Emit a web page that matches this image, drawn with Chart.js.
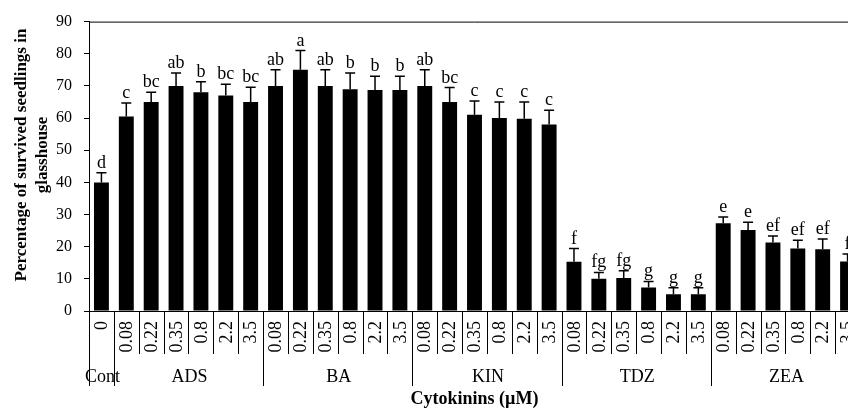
<!DOCTYPE html>
<html>
<head>
<meta charset="utf-8">
<script src="https://cdn.jsdelivr.net/npm/chart.js@4"></script>
<style>
  html, body { margin: 0; padding: 0; background: #fff; overflow: hidden; }
  #wrap { width: 848px; height: 412px; overflow: hidden; }
</style>
</head>
<body>
<div id="wrap"><canvas id="barChart" width="872" height="412"></canvas></div>
<script>
// treatments, grouped by cytokinin
var groupNames = ["Cont", "ADS", "BA", "KIN", "TDZ", "ZEA"];
var groupSizes = [1, 6, 6, 6, 6, 6];
var doseLabels = ["0",
    "0.08", "0.22", "0.35", "0.8", "2.2", "3.5",
    "0.08", "0.22", "0.35", "0.8", "2.2", "3.5",
    "0.08", "0.22", "0.35", "0.8", "2.2", "3.5",
    "0.08", "0.22", "0.35", "0.8", "2.2", "3.5",
    "0.08", "0.22", "0.35", "0.8", "2.2", "3.5"];

// % survived seedlings, with the upper error and the letters over each bar
var survival = [40,
    60.5, 65, 70, 68, 67, 65,
    70, 75, 70, 69, 68.7, 68.7,
    70, 65, 61, 60, 59.8, 58,
    15.3, 10, 10.3, 7.3, 5.2, 5.2,
    27.3, 25.2, 21.3, 19.4, 19.2, 15.4];
var errorUp = [3,
    4.2, 3, 4, 3.3, 3.5, 4.6,
    5, 6, 5, 5, 4.3, 4.3,
    5, 4.5, 4.3, 5, 5.2, 4.4,
    4.1, 2, 2.2, 1.9, 2, 2,
    1.9, 2.4, 2, 2.6, 3.2, 2.3];
var letters = ["d",
    "c", "bc", "ab", "b", "bc", "bc",
    "ab", "a", "ab", "b", "b", "b",
    "ab", "bc", "c", "c", "c", "c",
    "f", "fg", "fg", "g", "g", "g",
    "e", "e", "ef", "ef", "ef", "f"];

var yTicks = [0, 10, 20, 30, 40, 50, 60, 70, 80, 90];

var serif = "'Liberation Serif', 'Times New Roman', serif";

// error bars, letters, category axis and titles
var extras = {
    id: "extras",
    afterDatasetsDraw: function (chart) {
        var ctx = chart.ctx;
        var xs = chart.scales.x, ys = chart.scales.y;
        ctx.save();
        ctx.strokeStyle = "#000";
        ctx.fillStyle = "#000";
        ctx.lineWidth = 1.5;
        ctx.font = "18px " + serif;
        ctx.textAlign = "center";
        ctx.textBaseline = "alphabetic";
        for (var i = 0; i < survival.length; i++) {
            var x = xs.getPixelForValue(i);
            var yb = ys.getPixelForValue(survival[i]);
            var yt = ys.getPixelForValue(survival[i] + errorUp[i]);
            ctx.beginPath();
            ctx.moveTo(x, yb);
            ctx.lineTo(x, yt);
            ctx.moveTo(x - 5, yt);
            ctx.lineTo(x + 5, yt);
            ctx.stroke();
            ctx.fillText(letters[i], x, yt - 5);
        }
        ctx.restore();
    },
    afterDraw: function (chart) {
        var ctx = chart.ctx;
        var area = chart.chartArea;
        var xs = chart.scales.x;
        var half = (xs.getPixelForValue(1) - xs.getPixelForValue(0)) / 2;
        ctx.save();
        ctx.strokeStyle = "#000";
        ctx.fillStyle = "#000";
        ctx.lineWidth = 1;

        // top frame
        ctx.beginPath();
        ctx.moveTo(area.left, area.top + 0.5);
        ctx.lineTo(area.right, area.top + 0.5);
        ctx.stroke();

        // separators under the axis
        var bounds = [0];
        var n = 0;
        groupSizes.forEach(function (s) { n += s; bounds.push(n); });
        for (var b = 0; b <= doseLabels.length; b++) {
            var bx = Math.round(xs.getPixelForValue(b) - half) + 0.5;
            var long = bounds.indexOf(b) >= 0;
            ctx.beginPath();
            ctx.moveTo(bx, area.bottom);
            ctx.lineTo(bx, long ? area.bottom + 75 : area.bottom + 43);
            ctx.stroke();
        }

        // dose labels, rotated
        ctx.font = "18px " + serif;
        ctx.textAlign = "right";
        ctx.textBaseline = "middle";
        for (var i = 0; i < doseLabels.length; i++) {
            ctx.save();
            ctx.translate(xs.getPixelForValue(i) + 1, area.bottom + 10);
            ctx.rotate(-Math.PI / 2);
            ctx.fillText(doseLabels[i], 0, 0);
            ctx.restore();
        }

        // group names
        ctx.font = "18px " + serif;
        ctx.textAlign = "center";
        ctx.textBaseline = "middle";
        var start = 0;
        for (var g = 0; g < groupNames.length; g++) {
            var end = start + groupSizes[g] - 1;
            var gx = (xs.getPixelForValue(start) + xs.getPixelForValue(end)) / 2;
            ctx.fillText(groupNames[g], gx + 1, area.bottom + 66);
            start = end + 1;
        }

        // x title
        ctx.font = "bold 18px " + serif;
        ctx.fillText("Cytokinins (\u00b5M)", (area.left + area.right) / 2, area.bottom + 88);

        // y title, two lines
        ctx.save();
        ctx.translate(22, 155);
        ctx.rotate(-Math.PI / 2);
        ctx.font = "bold 17px " + serif;
        ctx.fillText("Percentage of survived seedlings in", 0, 0);
        ctx.fillText("glasshouse", 0, 21);
        ctx.restore();

        ctx.restore();
    }
};

var canvas = document.getElementById("barChart");
var ctx = canvas.getContext("2d");
canvas.chart = new Chart(ctx, {
    type: "bar",
    data: {
        labels: doseLabels,
        datasets: [{
            label: "Survival",
            data: survival,
            backgroundColor: "#000",
            borderWidth: 0,
            barPercentage: 0.6,
            categoryPercentage: 1
        }]
    },
    options: {
        responsive: false,
        animation: false,
        devicePixelRatio: 1,
        layout: { padding: { top: 17, right: 12, bottom: 101, left: 0 } },
        plugins: {
            legend: { display: false },
            tooltip: { enabled: false }
        },
        scales: {
            x: {
                grid: { display: false },
                ticks: { display: false },
                border: { display: true, color: "#000", width: 1 },
                afterFit: function (scale) { scale.height = 0; }
            },
            y: {
                min: 0,
                max: 90,
                afterBuildTicks: function (scale) {
                    scale.ticks = yTicks.map(function (v) { return { value: v }; });
                },
                grid: { display: true, drawOnChartArea: false, drawTicks: true, tickLength: 5, color: "#000" },
                border: { display: true, color: "#000", width: 1 },
                ticks: {
                    color: "#000",
                    padding: 12,
                    font: { family: serif, size: 16 }
                },
                afterFit: function (scale) { scale.width = 89; }
            }
        }
    },
    plugins: [extras]
});
</script>
</body>
</html>
